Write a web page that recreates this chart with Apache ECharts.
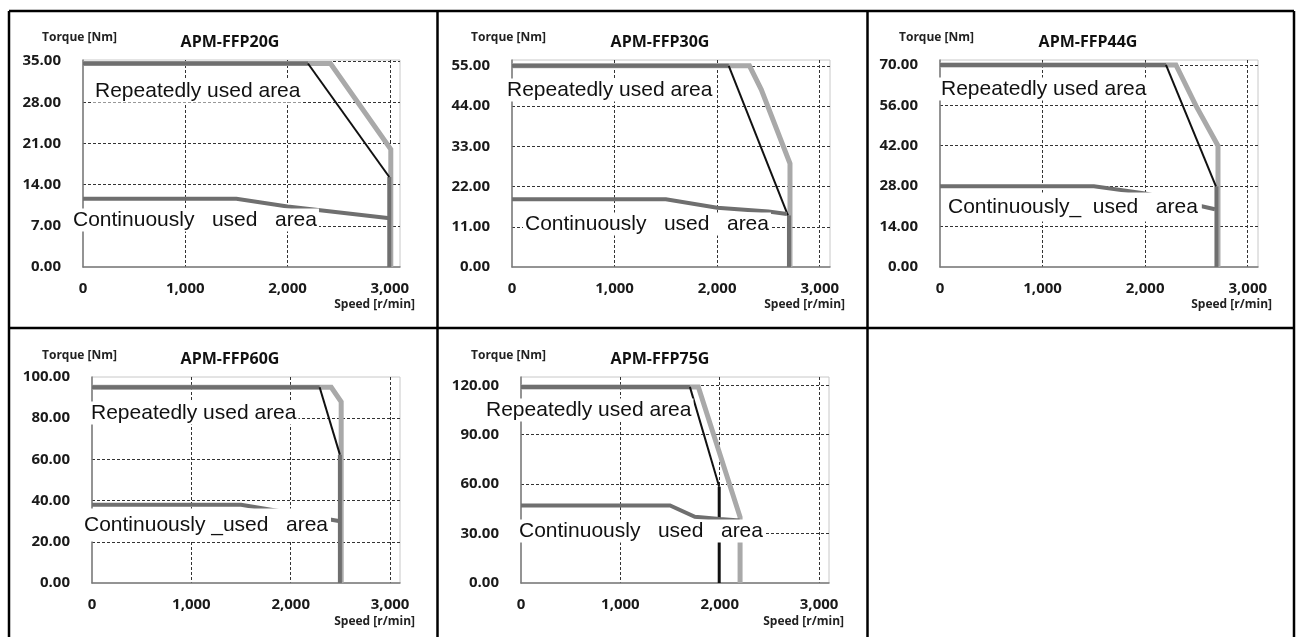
<!DOCTYPE html>
<html><head><meta charset="utf-8">
<script src="https://cdn.jsdelivr.net/npm/echarts@6/dist/echarts.min.js"></script>
<style>html,body{margin:0;padding:0;background:#fff}#c{width:1300px;height:637px}</style>
</head><body><div id="c"></div>
<script>
// ---------- DATA ----------
const titles = ['APM-FFP20G', 'APM-FFP30G', 'APM-FFP44G', 'APM-FFP60G', 'APM-FFP75G'];
const yMax = [35.2, 56.6, 71.7, 100, 125];
const yStep = [7, 11, 14, 20, 30];
const xMax = 3100;
const xStep = 1000;
const yAxisName = 'Torque [Nm]';
const xAxisName = 'Speed [r/min]';
const repLabel = 'Repeatedly used area';
const contLabels = ['Continuously   used   area', 'Continuously   used   area', 'Continuously_  used   area', 'Continuously _used   area', 'Continuously   used   area'];

// APM-FFP20G
const p1Light = [[0, 34.6], [2420, 34.6], [3010, 20], [3010, 0]];
const p1Dark = [[0, 34.6], [2200, 34.6]];
const p1DarkV = [[2995, 15.3], [2995, 0]];
const p1Black = [[2200, 34.6], [2995, 15.3]];
const p1Cont = [[0, 11.6], [1500, 11.6], [2000, 10.3], [3000, 8.3]];
// APM-FFP30G
const p2Light = [[0, 55], [2315, 55], [2430, 48.5], [2710, 28.3], [2710, 0]];
const p2Dark = [[0, 55], [2113, 55]];
const p2DarkV = [[2700, 14.1], [2700, 0]];
const p2Black = [[2113, 55], [2690, 14.1]];
const p2Cont = [[0, 18.5], [1500, 18.5], [2000, 16.2], [2500, 15.2], [2680, 14.5]];
// APM-FFP44G
const p3Light = [[0, 70], [2300, 70], [2496, 55.8], [2710, 42], [2710, 0]];
const p3Dark = [[0, 70], [2203, 70]];
const p3DarkV = [[2695, 27.9], [2695, 0]];
const p3Black = [[2203, 70], [2690, 27.9]];
const p3Cont = [[0, 28], [1500, 28], [2000, 25.5], [2680, 20]];
// APM-FFP60G
const p4Light = [[0, 95], [2408, 95], [2508, 88], [2508, 0]];
const p4Dark = [[0, 95], [2291, 95]];
const p4DarkV = [[2495, 62.3], [2495, 0]];
const p4Black = [[2291, 95], [2495, 62.3]];
const p4Cont = [[0, 38], [1500, 38], [2000, 34], [2500, 30]];
// APM-FFP75G
const p5Light = [[0, 119], [1785, 119], [2205, 40], [2205, 0]];
const p5Dark = [[0, 119], [1700, 119]];
const p5DarkV = [[1995, 58.4], [1995, 0]];
const p5Black = [[1700, 119], [1995, 58.4]];
const p5Cont = [[0, 47], [1500, 47], [1750, 40.2], [2000, 38.8], [2200, 38]];

const panels = [
  [p1Light, p1Dark, p1DarkV, p1Black, p1Cont],
  [p2Light, p2Dark, p2DarkV, p2Black, p2Cont],
  [p3Light, p3Dark, p3DarkV, p3Black, p3Cont],
  [p4Light, p4Dark, p4DarkV, p4Black, p4Cont],
  [p5Light, p5Dark, p5DarkV, p5Black, p5Cont]
];

// ---------- LAYOUT ----------
const gridBoxes = [
  {left: 83, top: 60, width: 317, height: 207},
  {left: 512, top: 60, width: 318, height: 207},
  {left: 940, top: 60, width: 318, height: 207},
  {left: 92, top: 377, width: 308, height: 206},
  {left: 521, top: 377, width: 308, height: 206}
];
const torquePos = [[42, 38], [471, 38], [899, 38], [42, 356], [471, 356]];
const titlePos = [[230, 42], [660, 42], [1088, 42], [230, 359], [660, 359]];
const speedPos = [[415, 305], [845, 305], [1272, 305], [415, 622], [844, 622]];
const repPos = [[95, 91], [507, 90], [941, 89], [91, 413], [486, 410]];
const contPos = [[73, 220], [525, 224], [948, 207], [84, 525], [519, 531]];
const contPad = [[1, 2, 1, 2], [1, 2, 1, 2], [7, 4, 1, 2], [10, 3, 2, 2], [1, 2, 1, 2]];

const FONT = '"Open Sans", "Noto Sans", sans-serif';
const styles = [
  {color: '#a9a9a9', width: 5},
  {color: '#6f6f6f', width: 4},
  {color: '#6f6f6f', width: 4},
  {color: '#111111', width: 2},
  {color: '#6f6f6f', width: 4}
];
const styleOverride = {'4-2': {color: '#111111', width: 3}};

const grid = [], xAxis = [], yAxis = [], series = [], graphic = [];
gridBoxes.forEach((g, i) => {
  grid.push(Object.assign({show: true, borderColor: '#c8c8c8', borderWidth: 1, backgroundColor: 'transparent'}, g));
  xAxis.push({
    gridIndex: i, type: 'value', min: 0, max: xMax, interval: xStep,
    axisLine: {show: true, onZero: false, lineStyle: {color: '#7a7a7a', width: 1.5}},
    axisTick: {show: false},
    axisLabel: {showMaxLabel: false, margin: 14, color: '#1a1a1a', fontWeight: 'bold', fontSize: 15, fontFamily: FONT,
      formatter: v => v.toLocaleString('en-US')},
    splitLine: {show: true, showMinLine: false, showMaxLine: false, lineStyle: {type: [3, 2], color: '#333', width: 1}}
  });
  yAxis.push({
    gridIndex: i, type: 'value', min: 0, max: yMax[i], interval: yStep[i],
    axisLine: {show: true, onZero: false, lineStyle: {color: '#7a7a7a', width: 1.5}},
    axisTick: {show: false},
    axisLabel: {showMaxLabel: (yMax[i] % yStep[i] === 0), margin: 22, color: '#1a1a1a', fontWeight: 'bold', fontSize: 15, fontFamily: FONT,
      formatter: v => v.toFixed(2)},
    splitLine: {show: true, showMinLine: false, showMaxLine: false, lineStyle: {type: [3, 2], color: '#333', width: 1}}
  });
  panels[i].forEach((d, k) => {
    const st = styleOverride[i + '-' + k] || styles[k];
    series.push({
      type: 'line', xAxisIndex: i, yAxisIndex: i, data: d, symbol: 'none', silent: true, animation: false,
      clip: false, lineStyle: {color: st.color, width: st.width, join: 'miter'}, z: 2 + k
    });
  });
  graphic.push({type: 'text', x: torquePos[i][0], y: torquePos[i][1], z: 100,
    style: {text: yAxisName, font: 'bold 12px ' + FONT, fill: '#222', align: 'left', verticalAlign: 'middle', textAlign: 'left', textVerticalAlign: 'middle'}});
  graphic.push({type: 'text', x: titlePos[i][0], y: titlePos[i][1], z: 100,
    style: {text: titles[i], font: 'bold 16px ' + FONT, fill: '#111', align: 'center', verticalAlign: 'middle', textAlign: 'center', textVerticalAlign: 'middle'}});
  graphic.push({type: 'text', x: speedPos[i][0], y: speedPos[i][1], z: 100,
    style: {text: xAxisName, font: 'bold 12px ' + FONT, fill: '#222', align: 'right', verticalAlign: 'middle', textAlign: 'right', textVerticalAlign: 'middle'}});
  graphic.push({type: 'text', x: repPos[i][0] - 2, y: repPos[i][1], z: 100,
    style: {text: repLabel, font: '21px "Liberation Sans", Arial, sans-serif', fill: '#111', backgroundColor: '#fff', padding: [1, 2],
      align: 'left', verticalAlign: 'middle', textAlign: 'left', textVerticalAlign: 'middle'}});
  graphic.push({type: 'text', x: contPos[i][0] - 2, y: contPos[i][1], z: 100,
    style: {text: contLabels[i], font: '21px "Liberation Sans", Arial, sans-serif', fill: '#111', backgroundColor: '#fff', padding: contPad[i],
      align: 'left', verticalAlign: 'middle', textAlign: 'left', textVerticalAlign: 'middle'}});
});

// panel frame lines
const frame = [
  [9, 11, 1294, 11], [9, 11, 9, 640], [1294, 11, 1294, 640],
  [437.5, 11, 437.5, 640], [867.5, 11, 867.5, 640], [9, 328, 1294, 328]
];
frame.forEach(f => graphic.push({type: 'line', z: 110, shape: {x1: f[0], y1: f[1], x2: f[2], y2: f[3]},
  style: {stroke: '#000', lineWidth: 2.5}}));

const chart = echarts.init(document.getElementById('c'), null, {renderer: 'canvas'});
chart.setOption({animation: false, backgroundColor: '#fff', grid, xAxis, yAxis, series, graphic});
</script>
</body></html>
